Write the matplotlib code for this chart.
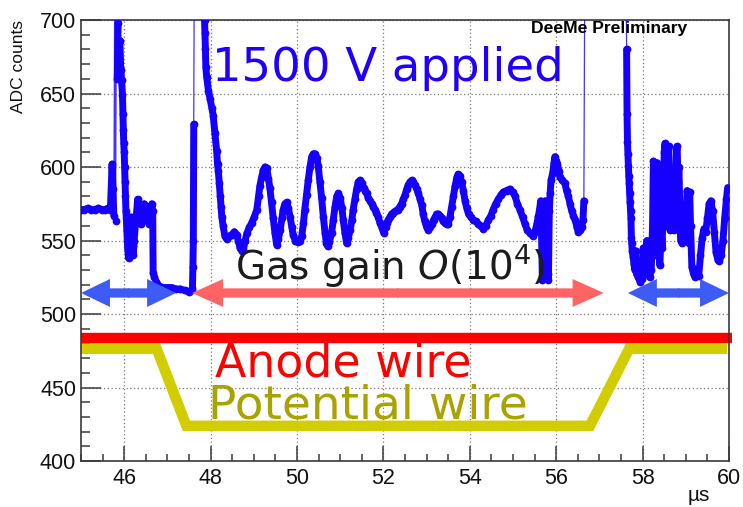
import numpy as np
import matplotlib
matplotlib.use("Agg")
import matplotlib.pyplot as plt
from matplotlib.patches import FancyArrow
from matplotlib.ticker import MultipleLocator

# waveform, sampled by eye: time [us] vs ADC counts (off-scale samples set to 720)
t_head = [45.00, 45.08, 45.16, 45.24, 45.32, 45.40, 45.48, 45.56, 45.62, 45.68,
          45.72, 45.74, 45.76, 45.78, 45.80, 45.82, 45.84, 45.86, 45.88, 45.90,
          45.92, 45.94, 45.96, 45.97, 45.98, 45.99, 46.00, 46.01, 46.02, 46.03,
          46.04, 46.06, 46.08, 46.10, 46.12, 46.14, 46.16, 46.18, 46.20, 46.21,
          46.23, 46.26, 46.29, 46.31, 46.33, 46.37, 46.40, 46.43, 46.46, 46.49,
          46.52, 46.55, 46.58, 46.61, 46.64, 46.66, 46.67, 46.70, 46.74, 46.81,
          46.90, 47.00, 47.10, 47.20, 47.30, 47.40, 47.51, 47.56, 47.58, 47.59,
          47.60, 47.61, 47.62]
adc_head = [571, 571, 572, 571, 571, 572, 571, 571, 572, 571,
            602, 585, 567, 720, 563, 720, 660, 698, 720, 686,
            666, 659, 649, 636, 625, 616, 610, 600, 590, 580,
            570, 557, 545, 538, 548, 559, 566, 557, 546, 540,
            550, 561, 570, 578, 573, 566, 561, 570, 575, 564,
            568, 573, 561, 570, 575, 570, 528, 525, 522, 519,
            518, 518, 518, 517, 517, 516, 515, 516, 518, 532,
            550, 629, 720]

t_mid = [47.84, 47.86, 47.87, 47.88, 47.89, 47.91, 47.95, 47.99, 48.03, 48.06,
         48.10, 48.14, 48.16, 48.18, 48.20, 48.22, 48.24, 48.26, 48.29, 48.33,
         48.37, 48.43, 48.49, 48.55, 48.60, 48.64, 48.68, 48.72, 48.76, 48.80,
         48.84, 48.90, 48.95, 49.01, 49.07, 49.11, 49.14, 49.18, 49.22, 49.26,
         49.30, 49.34, 49.37, 49.41, 49.45, 49.49, 49.53, 49.57, 49.61, 49.65,
         49.68, 49.72, 49.76, 49.80, 49.84, 49.88, 49.91, 49.96, 50.03, 50.08,
         50.11, 50.15, 50.18, 50.22, 50.26, 50.30, 50.34, 50.38, 50.42, 50.46,
         50.49, 50.53, 50.57, 50.61, 50.65, 50.68, 50.71, 50.75, 50.80, 50.84,
         50.88, 50.92, 50.96, 51.00, 51.04, 51.07, 51.11, 51.15, 51.19, 51.23,
         51.27, 51.30, 51.34, 51.38, 51.42, 51.46, 51.50, 51.54, 51.57, 51.61,
         51.65, 51.69, 51.73, 51.77, 51.81, 51.84, 51.88, 51.92, 51.96, 52.01,
         52.05, 52.08, 52.11, 52.15, 52.19, 52.23, 52.28, 52.33, 52.38, 52.42,
         52.46, 52.50, 52.54, 52.58, 52.62, 52.66, 52.69, 52.73, 52.77, 52.81,
         52.85, 52.89, 52.92, 52.96, 53.00, 53.04, 53.08, 53.12, 53.16, 53.20,
         53.23, 53.27, 53.31, 53.35, 53.39, 53.43, 53.47, 53.50, 53.54, 53.58,
         53.62, 53.66, 53.70, 53.73, 53.77, 53.81, 53.85, 53.89, 53.93, 53.97,
         54.02, 54.08, 54.14, 54.20, 54.26, 54.31, 54.37, 54.43, 54.49, 54.54,
         54.60, 54.66, 54.72, 54.78, 54.85, 54.93, 54.99, 55.05, 55.10, 55.16,
         55.22, 55.28, 55.33, 55.39, 55.47, 55.51, 55.55, 55.59, 55.62, 55.64,
         55.66, 55.68, 55.70, 55.72, 55.74, 55.76, 55.78, 55.80, 55.82, 55.84,
         55.86, 55.88, 55.92, 55.95, 55.97, 56.00, 56.03, 56.06, 56.09, 56.14,
         56.20, 56.24, 56.28, 56.32, 56.36, 56.40, 56.44, 56.48, 56.51, 56.55,
         56.59, 56.62, 56.64, 56.66]
adc_mid = [720, 700, 691, 680, 668, 661, 652, 646, 640, 635,
           623, 611, 602, 597, 589, 580, 573, 566, 560, 553,
           551, 553, 554, 556, 554, 550, 545, 543, 544, 550,
           555, 559, 562, 566, 571, 580, 587, 593, 598, 600,
           599, 592, 586, 576, 565, 555, 547, 551, 557, 565,
           571, 575, 576, 572, 566, 559, 554, 550, 549, 550,
           553, 562, 571, 581, 591, 600, 607, 609, 609, 606,
           601, 590, 579, 566, 555, 548, 546, 549, 555, 564,
           573, 580, 582, 579, 572, 564, 555, 548, 552, 557,
           564, 571, 578, 585, 590, 591, 589, 586, 584, 582,
           579, 577, 575, 573, 571, 569, 566, 562, 559, 555,
           559, 562, 564, 566, 568, 569, 570, 571, 573, 575,
           578, 581, 585, 588, 590, 591, 590, 588, 585, 582,
           578, 574, 568, 563, 559, 557, 559, 561, 564, 566,
           568, 568, 567, 565, 563, 562, 561, 561, 566, 573,
           580, 587, 593, 595, 594, 590, 584, 577, 572, 568,
           566, 564, 563, 561, 560, 558, 560, 564, 567, 571,
           575, 578, 581, 583, 584, 585, 583, 580, 575, 571,
           566, 561, 557, 555, 553, 556, 561, 567, 572, 577,
           555, 523, 525, 560, 577, 559, 551, 527, 523, 570,
           582, 591, 596, 603, 607, 604, 602, 597, 593, 591,
           589, 584, 580, 575, 570, 567, 564, 559, 556, 557,
           559, 564, 577, 720]

t_tail = [57.62, 57.63, 57.64, 57.65, 57.66, 57.67, 57.68, 57.69, 57.70, 57.71,
          57.72, 57.73, 57.74, 57.75, 57.76, 57.78, 57.80, 57.82, 57.84, 57.86,
          57.90, 57.94, 57.98, 58.02, 58.04, 58.08, 58.10, 58.12, 58.16, 58.20,
          58.23, 58.25, 58.27, 58.29, 58.31, 58.33, 58.35, 58.37, 58.40, 58.43,
          58.45, 58.48, 58.50, 58.52, 58.54, 58.56, 58.58, 58.60, 58.62, 58.64,
          58.67, 58.70, 58.73, 58.76, 58.78, 58.80, 58.82, 58.84, 58.86, 58.88,
          58.92, 58.96, 59.00, 59.03, 59.05, 59.07, 59.09, 59.11, 59.14, 59.18,
          59.22, 59.26, 59.30, 59.34, 59.38, 59.42, 59.46, 59.50, 59.54, 59.58,
          59.62, 59.66, 59.70, 59.74, 59.78, 59.82, 59.86, 59.90, 59.94, 59.97,
          60.00]
adc_tail = [720, 680, 636, 617, 609, 601, 594, 589, 582, 576,
            570, 565, 552, 548, 543, 539, 534, 530, 543, 527,
            525, 522, 524, 545, 527, 534, 550, 528, 525, 530,
            560, 604, 590, 540, 575, 603, 580, 545, 533, 558,
            545, 575, 610, 616, 595, 560, 600, 614, 585, 557,
            562, 575, 557, 590, 612, 614, 590, 600, 575, 550,
            548, 552, 560, 584, 580, 548, 583, 560, 532, 527,
            525, 528, 526, 540, 552, 558, 556, 565, 575, 577,
            570, 556, 542, 537, 536, 540, 550, 565, 578, 586,
            585]

# overlay annotations: wire levels and arrow spans
anode_level = 484.0
potential_t = [45.0, 46.75, 47.44, 56.78, 57.69, 59.96]
potential_adc = [476.4, 476.4, 423.9, 423.9, 476.4, 476.4]
arrow_level = 514.3
blue_spans = [(45.0, 47.2), (57.66, 60.0)]
red_span = (47.57, 57.1)

x_ticks = [46, 48, 50, 52, 54, 56, 58, 60]
y_ticks = [400, 450, 500, 550, 600, 650, 700]

t = np.array(t_head + t_mid + t_tail)
adc = np.array(adc_head + adc_mid + adc_tail, dtype=float)
adc_on_scale = np.where(adc > 700, np.nan, adc)

fig = plt.figure(figsize=(7.43, 5.07), dpi=100)
ax = fig.add_axes([0.10902, 0.09073, 0.87214, 0.86982])
ax.set_xlim(45, 60)
ax.set_ylim(400, 700)

frame_col = "#3a3a3a"
for sp in ax.spines.values():
    sp.set_color(frame_col)
    sp.set_linewidth(1.2)

ax.set_xticks(x_ticks)
ax.set_yticks(y_ticks)
ax.xaxis.set_minor_locator(MultipleLocator(0.5))
ax.yaxis.set_minor_locator(MultipleLocator(10))
ax.tick_params(axis="both", which="both", direction="in", colors=frame_col,
               top=False, right=False, width=1.1)
ax.tick_params(axis="x", which="major", length=10.8, pad=5)
ax.tick_params(axis="x", which="minor", length=5)
ax.tick_params(axis="y", which="major", length=14.4, pad=3.6)
ax.tick_params(axis="y", which="minor", length=6.7)
for lab in ax.get_xticklabels() + ax.get_yticklabels():
    lab.set_fontfamily("Liberation Sans")
    lab.set_fontsize(15.5)
    lab.set_color("#111111")

ax.grid(True, which="major", linestyle=(0, (1, 2)), color="#7a7a7a", linewidth=0.9)
ax.set_axisbelow(True)

# wires
ax.plot(potential_t, potential_adc, color="#d2cd00", lw=7.6,
        solid_joinstyle="miter", solid_capstyle="butt", zorder=2)
ax.plot([45.0, 60.07], [anode_level, anode_level], color="#ff0000", lw=7.5,
        solid_capstyle="butt", zorder=2.1, clip_on=False)

# waveform: dense band, thin trace, sample markers
wave_col = "#1500ff"
ax.plot(t, adc_on_scale, color=wave_col, lw=5.0, solid_joinstyle="round",
        solid_capstyle="round", zorder=3)
ax.plot(t, adc, color=wave_col, lw=0.9, alpha=0.8, zorder=3)
ax.plot(t, adc_on_scale, linestyle="none", marker="o", ms=5.6,
        mec="none", color=wave_col, zorder=3.2)


def double_arrow(x0, x1, color, head_len):
    xc = 0.5 * (x0 + x1)
    for xe, d in ((x1, 0.02), (x0, -0.02)):
        ax.add_patch(FancyArrow(xc - d, arrow_level, xe - xc + d, 0,
                                width=6.3, head_width=19.0, head_length=head_len,
                                length_includes_head=True, color=color,
                                lw=0, zorder=4))


for a, b in blue_spans:
    double_arrow(a, b, "#3d5cf5", 0.67)
double_arrow(red_span[0], red_span[1], "#ff6464", 0.72)

# labels
ax.text(48.03, 658.5, "1500 V applied", color="#1f00ff", fontsize=33.5,
        family="DejaVu Sans", va="baseline", ha="left", zorder=5)
ax.text(48.56, 523.8, r"Gas gain $O$(10$^4$)", color="#1c1c1c", fontsize=28,
        family="DejaVu Sans", va="baseline", ha="left", zorder=5)
ax.text(48.10, 457.8, "Anode wire", color="#ff0000", fontsize=33,
        family="DejaVu Sans", va="baseline", ha="left", zorder=5)
ax.text(47.95, 428.8, "Potential wire", color="#a8a300", fontsize=33.8,
        family="DejaVu Sans", va="baseline", ha="left", zorder=5)
ax.text(0.6944, 0.970, "DeeMe Preliminary", transform=ax.transAxes,
        fontsize=12.6, fontweight="bold", family="Liberation Sans",
        va="baseline", ha="left", zorder=5)

fig.text(18.5 / 743, 1 - 20 / 507, "ADC counts", rotation=90, ha="center",
         va="top", fontsize=12.5, family="Liberation Sans", color="#111111")
fig.text(710 / 743, 1 - 501 / 507, "µs", ha="right", va="baseline",
         fontsize=15, family="Liberation Sans", color="#111111")

fig.savefig("out.png", dpi=100)
